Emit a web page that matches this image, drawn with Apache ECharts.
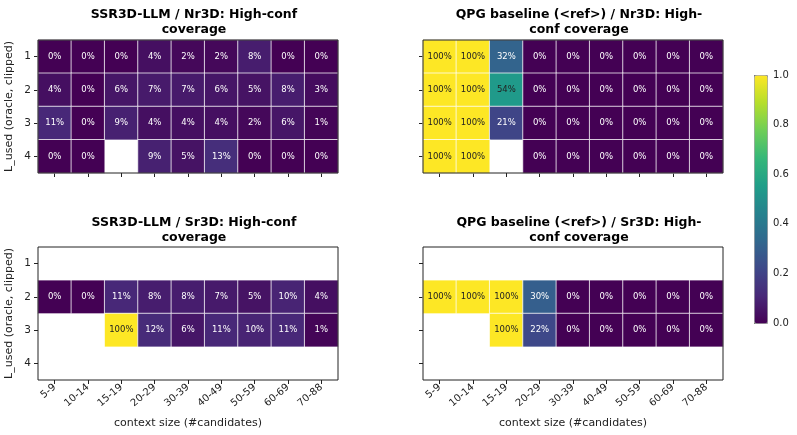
<!DOCTYPE html>
<html>
<head>
    <meta charset="utf-8">
    <title>High-conf coverage</title>
    <script src="https://cdn.jsdelivr.net/npm/echarts@6/dist/echarts.min.js"></script>
    <style>
        html, body { margin: 0; padding: 0; background: #fff; }
        #chart-container { width: 797px; height: 435px; }
    </style>
</head>
<body>
<div id="chart-container"></div>
<script>
    // context size bins and L_used rows
    var xCats = ['5-9', '10-14', '15-19', '20-29', '30-39', '40-49', '50-59', '60-69', '70-88'];
    var yCats = ['1', '2', '3', '4'];
    var cbTicks = [0, 0.2, 0.4, 0.6, 0.8, 1.0];

    // coverage fractions, one row per L_used (null = no samples)
    var ssrNr3d = [
        [0, 0, 0, 0.04, 0.02, 0.02, 0.08, 0, 0],
        [0.04, 0, 0.06, 0.07, 0.07, 0.06, 0.05, 0.08, 0.03],
        [0.11, 0, 0.09, 0.04, 0.04, 0.04, 0.02, 0.06, 0.01],
        [0, 0, null, 0.09, 0.05, 0.13, 0, 0, 0]
    ];
    var qpgNr3d = [
        [1, 1, 0.32, 0, 0, 0, 0, 0, 0],
        [1, 1, 0.54, 0, 0, 0, 0, 0, 0],
        [1, 1, 0.21, 0, 0, 0, 0, 0, 0],
        [1, 1, null, 0, 0, 0, 0, 0, 0]
    ];
    var ssrSr3d = [
        [null, null, null, null, null, null, null, null, null],
        [0, 0, 0.11, 0.08, 0.08, 0.07, 0.05, 0.10, 0.04],
        [null, null, 1, 0.12, 0.06, 0.11, 0.10, 0.11, 0.01],
        [null, null, null, null, null, null, null, null, null]
    ];
    var qpgSr3d = [
        [null, null, null, null, null, null, null, null, null],
        [1, 1, 1, 0.30, 0, 0, 0, 0, 0],
        [null, null, 1, 0.22, 0, 0, 0, 0, 0],
        [null, null, null, null, null, null, null, null, null]
    ];

    var titles = [
        'SSR3D-LLM / Nr3D: High-conf\ncoverage',
        'QPG baseline (<ref>) / Nr3D: High-\nconf coverage',
        'SSR3D-LLM / Sr3D: High-conf\ncoverage',
        'QPG baseline (<ref>) / Sr3D: High-\nconf coverage'
    ];
    var panels = [ssrNr3d, qpgNr3d, ssrSr3d, qpgSr3d];

    var viridis = ['#440154', '#482878', '#3e4989', '#31688e', '#26828e',
                   '#1f9e89', '#35b779', '#6ece58', '#b5de2b', '#fde725'];
    var font = 'DejaVu Sans';
    var ink = '#222';

    var gridPos = [
        { left: 38, top: 40 },
        { left: 423, top: 40 },
        { left: 38, top: 247 },
        { left: 423, top: 247 }
    ];

    function toCells(rows) {
        var out = [];
        rows.forEach(function (row, yi) {
            row.forEach(function (v, xi) {
                if (v === null) return;
                out.push({
                    value: [xi, yi, v],
                    label: { color: v >= 0.5 ? '#222' : '#fff' }
                });
            });
        });
        return out;
    }

    var grids = [], xAxes = [], yAxes = [], series = [], titleOpts = [];
    gridPos.forEach(function (p, i) {
        var isLeft = (i % 2 === 0), isBottom = (i >= 2);
        grids.push({
            left: p.left, top: p.top, width: 300, height: 133, z: 10,
            show: true, borderColor: ink, borderWidth: 1, backgroundColor: 'transparent'
        });
        titleOpts.push({
            text: titles[i],
            left: p.left + 151, top: isBottom ? 210 : 2,
            textAlign: 'center',
            textStyle: { fontFamily: font, fontSize: 12.5, fontWeight: 'bold', color: '#000', lineHeight: 15 }
        });
        xAxes.push({
            type: 'category', gridIndex: i, data: xCats,
            axisLine: { show: false },
            axisTick: { show: true, alignWithLabel: true, length: 4, lineStyle: { color: ink } },
            axisLabel: {
                show: isBottom, rotate: 40, fontSize: 10, fontFamily: font, color: ink, margin: 6
            },
            splitLine: { show: false },
            name: isBottom ? 'context size (#candidates)' : '',
            nameLocation: 'middle', nameGap: 38,
            nameTextStyle: { fontFamily: font, fontSize: 11, color: ink }
        });
        yAxes.push({
            type: 'category', gridIndex: i, data: yCats, inverse: true,
            axisLine: { show: false },
            axisTick: { show: true, alignWithLabel: true, length: 4, lineStyle: { color: ink } },
            axisLabel: { show: isLeft, fontSize: 10.5, fontFamily: font, color: ink, margin: 7 },
            splitLine: { show: false },
            name: isLeft ? 'L_used (oracle, clipped)' : '',
            nameLocation: 'middle', nameRotate: 90, nameGap: 23,
            nameTextStyle: { fontFamily: font, fontSize: 11, color: ink }
        });
        series.push({
            type: 'heatmap', xAxisIndex: i, yAxisIndex: i,
            data: toCells(panels[i]),
            itemStyle: { borderColor: 'rgba(255,255,255,0.75)', borderWidth: 1 },
            label: {
                show: true, fontSize: 8.5, fontFamily: font,
                formatter: function (p) { return Math.round(p.value[2] * 100) + '%'; }
            },
            emphasis: { disabled: true }
        });
    });

    // colorbar axis
    grids.push({ left: 754, top: 75, width: 13, height: 248, show: false });
    xAxes.push({ type: 'value', gridIndex: 4, show: false, min: 0, max: 1 });
    yAxes.push({
        type: 'value', gridIndex: 4, position: 'right', min: cbTicks[0], max: cbTicks[cbTicks.length - 1], interval: 0.2,
        axisLine: { show: false },
        axisTick: { show: true, length: 4, lineStyle: { color: ink } },
        axisLabel: {
            fontSize: 10, fontFamily: font, color: ink, margin: 6,
            formatter: function (v) { return v.toFixed(1); }
        },
        splitLine: { show: false }
    });
    series.push({ type: 'line', xAxisIndex: 4, yAxisIndex: 4, data: [], silent: true });

    var myChart = echarts.init(document.getElementById('chart-container'));
    myChart.setOption({
        animation: false,
        title: titleOpts,
        grid: grids,
        xAxis: xAxes,
        yAxis: yAxes,
        visualMap: {
            type: 'continuous', min: 0, max: 1, seriesIndex: [0, 1, 2, 3],
            calculable: false, realtime: false, hoverLink: false,
            left: 754, top: 75, itemWidth: 13, itemHeight: 248,
            padding: 0, borderColor: '#999', borderWidth: 1,
            inRange: { color: viridis },
            textStyle: { fontSize: 1, color: 'transparent' }
        },
        series: series
    });
</script>
</body>
</html>
